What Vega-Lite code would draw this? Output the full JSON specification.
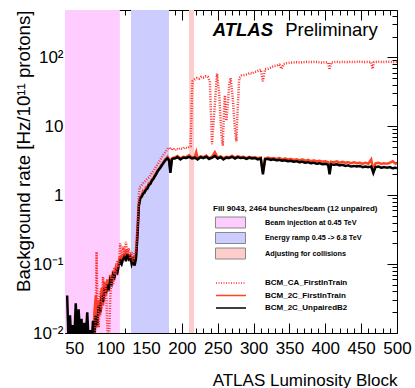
{
  "$schema": "https://vega.github.io/schema/vega-lite/v6.json",
  "width": 332,
  "height": 323,
  "autosize": "none",
  "padding": {"left": 65, "top": 10, "right": 18, "bottom": 55},
  "config": {
    "view": {"stroke": "black", "strokeWidth": 1},
    "font": "Liberation Sans",
    "axis": {"domain": false, "grid": false, "tickColor": "black", "tickWidth": 1, "labelColor": "black", "titleColor": "black", "labelFont": "Liberation Sans", "titleFont": "Liberation Sans", "labelFontSize": 17, "titleFontSize": 17, "titleFontWeight": "normal", "labelOverlap": false, "labelBound": false, "labelFlush": false}
  },
  "datasets": {
    "bands": [
      {"band": "Beam injection at 0.45 TeV", "x": 37, "xe": 113.5},
      {"band": "Energy ramp 0.45 -> 6.8 TeV", "x": 129, "xe": 182},
      {"band": "Adjusting for collisions", "x": 210, "xe": 217}
    ],
    "ca": [
      {"x":78,"y":0.006},{"x":80,"y":0.02},{"x":81,"y":0.15},{"x":82,"y":0.03},{"x":84,"y":0.012},{"x":86,"y":0.04},{"x":88,"y":0.022},{"x":90,"y":0.065},{"x":92,"y":0.03},{"x":94,"y":0.05},{"x":96,"y":0.012},{"x":98,"y":0.006},{"x":100,"y":0.03},{"x":102,"y":0.07},{"x":104,"y":0.05},{"x":106,"y":0.09},{"x":108,"y":0.07},{"x":110,"y":0.11},{"x":112,"y":0.09},{"x":114,"y":0.2},{"x":116,"y":0.12},{"x":118,"y":0.18},{"x":120,"y":0.13},{"x":122,"y":0.21},{"x":124,"y":0.14},{"x":126,"y":0.17},{"x":128,"y":0.12},{"x":130,"y":0.15},{"x":132,"y":0.11},{"x":134,"y":0.14},{"x":136,"y":0.16},{"x":138,"y":0.35},{"x":140,"y":1.0},{"x":141,"y":1.3},{"x":143,"y":1.35},{"x":146,"y":1.5},{"x":149,"y":1.6},{"x":152,"y":1.75},{"x":155,"y":1.85},{"x":158,"y":2.1},{"x":161,"y":2.3},{"x":164,"y":2.6},{"x":167,"y":2.9},{"x":170,"y":3.3},{"x":173,"y":3.7},{"x":176,"y":4.1},{"x":179,"y":4.5},{"x":181,"y":4.9},{"x":183,"y":4.6},{"x":186,"y":4.8},{"x":189,"y":4.5},{"x":192,"y":4.7},{"x":195,"y":4.6},{"x":198,"y":4.8},{"x":201,"y":4.7},{"x":204,"y":4.9},{"x":207,"y":4.8},{"x":210,"y":5.0},{"x":212,"y":5.1},{"x":213,"y":10},{"x":214,"y":30},{"x":215,"y":45},{"x":218,"y":48},{"x":221,"y":50},{"x":224,"y":49},{"x":227,"y":52},{"x":230,"y":51},{"x":233,"y":53},{"x":236,"y":52},{"x":239,"y":45},{"x":242,"y":5.5},{"x":245,"y":15},{"x":249,"y":58},{"x":252,"y":30},{"x":255,"y":8},{"x":257,"y":5.2},{"x":259,"y":20},{"x":260,"y":28},{"x":262,"y":12},{"x":264,"y":20},{"x":266,"y":40},{"x":268,"y":50},{"x":271,"y":25},{"x":274,"y":9},{"x":276,"y":6},{"x":278,"y":20},{"x":280,"y":50},{"x":283,"y":54},{"x":286,"y":55},{"x":289,"y":56},{"x":292,"y":57},{"x":295,"y":59},{"x":298,"y":58},{"x":301,"y":61},{"x":304,"y":62},{"x":307,"y":64},{"x":310,"y":66},{"x":313,"y":45},{"x":316,"y":67},{"x":320,"y":68},{"x":324,"y":71},{"x":328,"y":74},{"x":332,"y":76},{"x":336,"y":78},{"x":339,"y":68},{"x":342,"y":80},{"x":346,"y":82},{"x":350,"y":83},{"x":355,"y":84},{"x":360,"y":85},{"x":365,"y":84},{"x":370,"y":85},{"x":375,"y":86},{"x":380,"y":85},{"x":385,"y":86},{"x":390,"y":85},{"x":395,"y":84},{"x":400,"y":85},{"x":404,"y":83},{"x":406,"y":66},{"x":408,"y":84},{"x":412,"y":85},{"x":416,"y":86},{"x":420,"y":85},{"x":425,"y":86},{"x":430,"y":85},{"x":435,"y":86},{"x":440,"y":85},{"x":445,"y":86},{"x":450,"y":86},{"x":455,"y":85},{"x":460,"y":86},{"x":464,"y":85},{"x":466,"y":68},{"x":468,"y":85},{"x":472,"y":86},{"x":476,"y":86},{"x":480,"y":85},{"x":485,"y":86},{"x":490,"y":86},{"x":495,"y":85},{"x":500,"y":86}
    ],
    "c2": [
      {"x":76,"y":0.006},{"x":78,"y":0.02},{"x":80,"y":0.035},{"x":82,"y":0.012},{"x":84,"y":0.03},{"x":86,"y":0.018},{"x":88,"y":0.045},{"x":90,"y":0.025},{"x":92,"y":0.055},{"x":94,"y":0.035},{"x":96,"y":0.06},{"x":98,"y":0.04},{"x":100,"y":0.07},{"x":102,"y":0.05},{"x":104,"y":0.08},{"x":106,"y":0.065},{"x":108,"y":0.09},{"x":110,"y":0.08},{"x":112,"y":0.11},{"x":114,"y":0.13},{"x":116,"y":0.1},{"x":118,"y":0.14},{"x":120,"y":0.12},{"x":122,"y":0.16},{"x":124,"y":0.12},{"x":126,"y":0.14},{"x":128,"y":0.11},{"x":130,"y":0.13},{"x":132,"y":0.1},{"x":134,"y":0.12},{"x":136,"y":0.14},{"x":138,"y":0.3},{"x":140,"y":0.75},{"x":142,"y":0.95},{"x":144,"y":1.0},{"x":146,"y":1.15},{"x":148,"y":1.1},{"x":150,"y":1.3},{"x":152,"y":1.3},{"x":154,"y":1.5},{"x":156,"y":1.5},{"x":158,"y":1.7},{"x":160,"y":1.75},{"x":162,"y":1.95},{"x":164,"y":2.1},{"x":166,"y":2.3},{"x":168,"y":2.4},{"x":170,"y":2.6},{"x":172,"y":2.8},{"x":174,"y":3.0},{"x":176,"y":3.2},{"x":178,"y":3.4},{"x":180,"y":3.6},{"x":182,"y":3.3},{"x":184,"y":2.3},{"x":186,"y":3.4},{"x":188,"y":3.5},
      {"x":190,"y":3.5},{"x":194,"y":3.7},{"x":198,"y":3.4},{"x":202,"y":3.6},{"x":206,"y":3.55},{"x":210,"y":3.8},{"x":214,"y":3.5},{"x":218,"y":3.6},{"x":220,"y":4.2},{"x":222,"y":3.4},{"x":226,"y":3.65},{"x":230,"y":3.55},{"x":234,"y":3.75},{"x":238,"y":3.45},{"x":242,"y":3.6},{"x":246,"y":4.2},{"x":250,"y":3.5},{"x":254,"y":3.65},{"x":258,"y":3.45},{"x":262,"y":3.6},{"x":266,"y":3.55},{"x":270,"y":3.7},{"x":274,"y":3.5},{"x":278,"y":3.65},{"x":282,"y":3.55},{"x":286,"y":3.6},{"x":290,"y":3.45},{"x":294,"y":3.6},{"x":298,"y":3.5},{"x":302,"y":3.55},{"x":306,"y":3.45},{"x":310,"y":3.5},{"x":313,"y":2.2},{"x":316,"y":3.4},{"x":320,"y":3.5},{"x":324,"y":3.4},{"x":328,"y":3.45},{"x":332,"y":3.35},{"x":336,"y":3.45},{"x":340,"y":3.3},{"x":344,"y":3.4},{"x":348,"y":3.3},{"x":352,"y":3.35},{"x":356,"y":3.25},{"x":360,"y":3.3},{"x":364,"y":3.2},{"x":368,"y":3.3},{"x":372,"y":3.15},{"x":376,"y":3.25},{"x":380,"y":3.1},{"x":384,"y":3.2},{"x":388,"y":3.1},{"x":392,"y":3.15},{"x":396,"y":3.05},{"x":400,"y":3.1},{"x":404,"y":3.0},{"x":406,"y":2.2},{"x":408,"y":3.05},{"x":412,"y":3.0},{"x":416,"y":3.1},{"x":420,"y":2.95},{"x":424,"y":3.05},{"x":428,"y":2.95},{"x":432,"y":3.0},{"x":436,"y":2.9},{"x":440,"y":3.0},{"x":444,"y":2.9},{"x":448,"y":2.95},{"x":452,"y":2.85},{"x":456,"y":2.95},{"x":460,"y":2.85},{"x":464,"y":3.3},{"x":467,"y":2.3},{"x":470,"y":2.9},{"x":474,"y":2.95},{"x":478,"y":2.85},{"x":482,"y":2.9},{"x":486,"y":2.85},{"x":490,"y":2.95},{"x":494,"y":3.1},{"x":498,"y":2.85},{"x":500,"y":2.9}
    ],
    "ub": [
      {"x":40,"y":0.035},{"x":42,"y":0.007},{"x":44,"y":0.018},{"x":46,"y":0.006},{"x":48,"y":0.013},{"x":50,"y":0.008},{"x":52,"y":0.027},{"x":54,"y":0.007},{"x":56,"y":0.022},{"x":58,"y":0.009},{"x":60,"y":0.016},{"x":62,"y":0.006},{"x":64,"y":0.014},{"x":66,"y":0.008},{"x":68,"y":0.02},{"x":70,"y":0.007},{"x":72,"y":0.011},{"x":74,"y":0.006},{"x":76,"y":0.015},{"x":78,"y":0.009},{"x":80,"y":0.018},{"x":82,"y":0.013},{"x":84,"y":0.025},{"x":86,"y":0.02},{"x":88,"y":0.035},{"x":90,"y":0.028},{"x":92,"y":0.045},{"x":94,"y":0.038},{"x":96,"y":0.05},{"x":98,"y":0.042},{"x":100,"y":0.058},{"x":102,"y":0.052},{"x":104,"y":0.07},{"x":106,"y":0.064},{"x":108,"y":0.08},{"x":110,"y":0.075},{"x":112,"y":0.095},{"x":114,"y":0.11},{"x":116,"y":0.1},{"x":118,"y":0.12},{"x":120,"y":0.13},{"x":122,"y":0.11},{"x":124,"y":0.14},{"x":126,"y":0.12},{"x":128,"y":0.13},{"x":130,"y":0.1},{"x":132,"y":0.115},{"x":134,"y":0.095},{"x":136,"y":0.12},{"x":138,"y":0.25},{"x":140,"y":0.7},{"x":142,"y":0.9},{"x":144,"y":0.95},{"x":146,"y":1.05},{"x":148,"y":1.1},{"x":150,"y":1.2},{"x":152,"y":1.25},{"x":154,"y":1.4},{"x":156,"y":1.45},{"x":158,"y":1.6},{"x":160,"y":1.7},{"x":162,"y":1.85},{"x":164,"y":2.0},{"x":166,"y":2.2},{"x":168,"y":2.35},{"x":170,"y":2.5},{"x":172,"y":2.7},{"x":174,"y":2.9},{"x":176,"y":3.1},{"x":178,"y":3.3},{"x":180,"y":3.4},{"x":182,"y":3.2},{"x":184,"y":2.1},{"x":186,"y":3.3},{"x":188,"y":3.4},
      {"x":190,"y":3.4},{"x":194,"y":3.55},{"x":198,"y":3.3},{"x":202,"y":3.5},{"x":206,"y":3.45},{"x":210,"y":3.6},{"x":214,"y":3.4},{"x":218,"y":3.5},{"x":222,"y":3.3},{"x":226,"y":3.55},{"x":230,"y":3.45},{"x":234,"y":3.6},{"x":238,"y":3.35},{"x":242,"y":3.5},{"x":246,"y":3.7},{"x":250,"y":3.4},{"x":254,"y":3.55},{"x":258,"y":3.3},{"x":262,"y":3.5},{"x":266,"y":3.45},{"x":270,"y":3.6},{"x":274,"y":3.4},{"x":278,"y":3.55},{"x":282,"y":3.45},{"x":286,"y":3.5},{"x":290,"y":3.35},{"x":294,"y":3.5},{"x":298,"y":3.4},{"x":302,"y":3.45},{"x":306,"y":3.3},{"x":310,"y":3.4},{"x":313,"y":2.0},{"x":316,"y":3.3},{"x":320,"y":3.35},{"x":324,"y":3.25},{"x":328,"y":3.3},{"x":332,"y":3.2},{"x":336,"y":3.25},{"x":340,"y":3.15},{"x":344,"y":3.2},{"x":348,"y":3.1},{"x":352,"y":3.15},{"x":356,"y":3.05},{"x":360,"y":3.1},{"x":364,"y":3.0},{"x":368,"y":3.05},{"x":372,"y":2.95},{"x":376,"y":3.0},{"x":380,"y":2.9},{"x":384,"y":2.95},{"x":388,"y":2.85},{"x":392,"y":2.9},{"x":396,"y":2.8},{"x":400,"y":2.85},{"x":404,"y":2.75},{"x":406,"y":2.0},{"x":408,"y":2.8},{"x":412,"y":2.75},{"x":416,"y":2.8},{"x":420,"y":2.7},{"x":424,"y":2.75},{"x":428,"y":2.65},{"x":432,"y":2.7},{"x":436,"y":2.6},{"x":440,"y":2.65},{"x":444,"y":2.6},{"x":448,"y":2.65},{"x":452,"y":2.55},{"x":456,"y":2.6},{"x":460,"y":2.55},{"x":464,"y":2.6},{"x":467,"y":2.1},{"x":470,"y":2.55},{"x":474,"y":2.6},{"x":478,"y":2.5},{"x":482,"y":2.55},{"x":486,"y":2.5},{"x":490,"y":2.55},{"x":494,"y":2.45},{"x":498,"y":2.5},{"x":500,"y":2.45}
    ]
  },
  "resolve": {"axis": {"x": "independent", "y": "independent"}},
  "layer": [
    {
      "data": {"name": "bands"},
      "mark": {"type": "rect", "opacity": 1},
      "encoding": {
        "x": {"field": "x", "type": "quantitative", "scale": {"domain": [37, 500], "nice": false, "zero": false}, "axis": null},
        "x2": {"field": "xe"},
        "fill": {"field": "band", "type": "nominal",
          "scale": {"domain": ["Beam injection at 0.45 TeV", "Energy ramp 0.45 -> 6.8 TeV", "Adjusting for collisions"], "range": ["#ffccff", "#ccccff", "#ffcccc"]},
          "legend": {"orient": "none", "legendX": 148, "legendY": 195, "title": "Fill 9043, 2464 bunches/beam (12 unpaired)", "titleFontSize": 8, "titleFontWeight": "bold", "titleColor": "black", "titlePadding": 4, "titleLimit": 400, "labelFontSize": 7.3, "labelFontWeight": "bold", "labelColor": "black", "symbolOffset": 12, "labelOffset": 29, "labelLimit": 400, "symbolType": "M-3,-1.1H3V1.1H-3Z", "symbolSize": 100, "symbolStrokeColor": "#888888", "symbolStrokeWidth": 1, "symbolOpacity": 1, "rowPadding": 0.5, "padding": 0}}
      }
    },
    {
      "data": {"name": "c2"},
      "mark": {"type": "line", "clip": true},
      "encoding": {
        "x": {"field": "x", "type": "quantitative", "scale": {"domain": [37, 500], "nice": false, "zero": false}, "axis": null},
        "y": {"field": "y", "type": "quantitative", "scale": {"type": "log", "domain": [0.01, 485], "nice": false}, "axis": null},
        "stroke": {"datum": "BCM_2C_FirstInTrain", "type": "nominal",
          "scale": {"domain": ["BCM_CA_FirstInTrain", "BCM_2C_FirstInTrain", "BCM_2C_UnpairedB2"], "range": ["#ff3030", "#ff4422", "#000000"]},
          "legend": {"orient": "none", "legendX": 150, "legendY": 267, "title": null, "labelFontSize": 8, "labelFontWeight": "bold", "labelColor": "black", "symbolOffset": 10, "labelOffset": 28, "symbolType": "M-3,0H3", "symbolSize": 100, "rowPadding": 2.5, "padding": 0}},
        "strokeDash": {"datum": "BCM_2C_FirstInTrain", "type": "nominal",
          "scale": {"domain": ["BCM_CA_FirstInTrain", "BCM_2C_FirstInTrain", "BCM_2C_UnpairedB2"], "range": [[1, 1.5], [1, 0], [1, 0]]}},
        "strokeWidth": {"datum": "BCM_2C_FirstInTrain", "type": "nominal",
          "scale": {"type": "ordinal", "domain": ["BCM_CA_FirstInTrain", "BCM_2C_FirstInTrain", "BCM_2C_UnpairedB2"], "range": [1, 2.5, 1]}}
      }
    },
    {
      "data": {"name": "ub"},
      "mark": {"type": "line", "clip": true},
      "encoding": {
        "x": {"field": "x", "type": "quantitative", "scale": {"domain": [37, 500], "nice": false, "zero": false}, "axis": null},
        "y": {"field": "y", "type": "quantitative", "scale": {"type": "log", "domain": [0.01, 485], "nice": false}, "axis": null},
        "stroke": {"datum": "BCM_2C_UnpairedB2", "type": "nominal"},
        "strokeDash": {"datum": "BCM_2C_UnpairedB2", "type": "nominal"},
        "strokeWidth": {"datum": "BCM_2C_UnpairedB2", "type": "nominal"}
      }
    },
    {
      "data": {"name": "ca"},
      "mark": {"type": "line", "clip": true},
      "encoding": {
        "x": {"field": "x", "type": "quantitative", "scale": {"domain": [37, 500], "nice": false, "zero": false},
          "axis": {"orient": "bottom", "values": [40,50,60,70,80,90,100,110,120,130,140,150,160,170,180,190,200,210,220,230,240,250,260,270,280,290,300,310,320,330,340,350,360,370,380,390,400,410,420,430,440,450,460,470,480,490,500],
            "labelExpr": "datum.value % 50 == 0 ? datum.label : ''",
            "tickSize": {"condition": {"test": "datum.value % 50 == 0", "value": -10}, "value": -5},
            "labelPadding": 17, "format": "d",
            "title": "ATLAS Luminosity Block", "titleAnchor": "end", "titlePadding": 11}},
        "y": {"field": "y", "type": "quantitative", "scale": {"type": "log", "domain": [0.01, 485], "nice": false},
          "axis": {"orient": "left", "values": [0.01,0.02,0.03,0.04,0.05,0.06,0.07,0.08,0.09,0.1,0.2,0.3,0.4,0.5,0.6,0.7,0.8,0.9,1,2,3,4,5,6,7,8,9,10,20,30,40,50,60,70,80,90,100,200,300,400],
            "labelExpr": "datum.value == 0.01 ? '10⁻²' : datum.value == 0.1 ? '10⁻¹' : datum.value == 1 ? '1' : datum.value == 10 ? '10' : datum.value == 100 ? '10²' : ''",
            "tickSize": {"condition": {"test": "datum.value == 0.01 || datum.value == 0.1 || datum.value == 1 || datum.value == 10 || datum.value == 100", "value": -10}, "value": -5},
            "labelPadding": 12,
            "title": "Background rate [Hz/10¹¹ protons]", "titleAnchor": "end", "titleFontSize": 18.7, "titlePadding": -1}},
        "stroke": {"datum": "BCM_CA_FirstInTrain", "type": "nominal"},
        "strokeDash": {"datum": "BCM_CA_FirstInTrain", "type": "nominal"},
        "strokeWidth": {"datum": "BCM_CA_FirstInTrain", "type": "nominal"}
      }
    },
    {
      "data": {"values": [{}]},
      "mark": {"type": "text", "text": "ATLAS", "font": "Liberation Sans", "fontSize": 18.5, "fontWeight": "bold", "fontStyle": "italic", "align": "left", "baseline": "middle", "color": "black"},
      "encoding": {
        "x": {"datum": 243, "type": "quantitative", "scale": {"domain": [37, 500], "nice": false, "zero": false}, "axis": null},
        "y": {"datum": 249, "type": "quantitative", "scale": {"type": "log", "domain": [0.01, 485], "nice": false}, "axis": null}
      }
    },
    {
      "data": {"values": [{}]},
      "mark": {"type": "text", "text": "Preliminary", "font": "Liberation Sans", "fontSize": 18.5, "align": "left", "baseline": "middle", "color": "black"},
      "encoding": {
        "x": {"datum": 344, "type": "quantitative", "scale": {"domain": [37, 500], "nice": false, "zero": false}, "axis": null},
        "y": {"datum": 249, "type": "quantitative", "scale": {"type": "log", "domain": [0.01, 485], "nice": false}, "axis": null}
      }
    },
    {
      "data": {"name": "ub"},
      "mark": {"type": "point", "opacity": 0},
      "encoding": {
        "x": {"field": "x", "type": "quantitative", "scale": {"domain": [37, 500], "nice": false, "zero": false},
          "axis": {"orient": "top", "values": [40,50,60,70,80,90,100,110,120,130,140,150,160,170,180,190,200,210,220,230,240,250,260,270,280,290,300,310,320,330,340,350,360,370,380,390,400,410,420,430,440,450,460,470,480,490,500],
            "labels": false, "title": null,
            "tickSize": {"condition": {"test": "datum.value % 50 == 0", "value": -10}, "value": -5}}},
        "y": {"field": "y", "type": "quantitative", "scale": {"type": "log", "domain": [0.01, 485], "nice": false},
          "axis": {"orient": "right", "values": [0.01,0.02,0.03,0.04,0.05,0.06,0.07,0.08,0.09,0.1,0.2,0.3,0.4,0.5,0.6,0.7,0.8,0.9,1,2,3,4,5,6,7,8,9,10,20,30,40,50,60,70,80,90,100,200,300,400],
            "labels": false, "title": null,
            "tickSize": {"condition": {"test": "datum.value == 0.01 || datum.value == 0.1 || datum.value == 1 || datum.value == 10 || datum.value == 100", "value": -10}, "value": -5}}}
      }
    }
  ]
}
